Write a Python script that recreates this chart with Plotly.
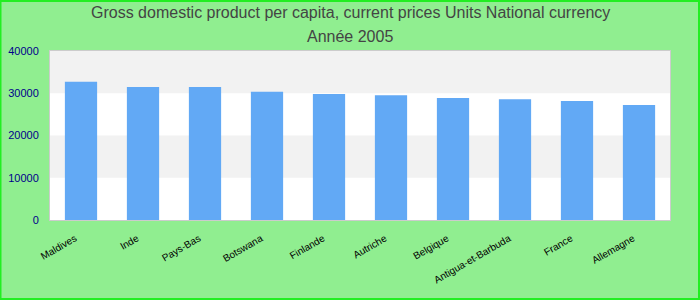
import plotly.graph_objects as go

categories = ["Maldives", "Inde", "Pays-Bas", "Botswana", "Finlande", "Autriche",
              "Belgique", "Antigua-et-Barbuda", "France", "Allemagne"]
values = [32700, 31450, 31450, 30350, 29800, 29550, 28850, 28600, 28150, 27200]
ytick_vals = [0, 10000, 20000, 30000, 40000]
title_lines = ["Gross domestic product per capita, current prices Units National currency",
               "Année 2005"]

W, H = 700, 300
ML, MR, MT, MB = 50, 30, 51, 80
pw = W - ML - MR
ph = H - MT - MB


def py(pix):
    """pixel row from top of figure -> paper y"""
    return 1 + (MT - pix) / ph


fig = go.Figure()
fig.add_trace(go.Bar(x=categories, y=values, marker=dict(color="#62a9f5", line=dict(width=0)),
                     hoverinfo="x+y"))

shapes = []
for i in range(len(ytick_vals) - 1):
    if i % 2 == 1:
        shapes.append(dict(type="rect", xref="paper", yref="y", x0=0, x1=1,
                           y0=ytick_vals[i], y1=ytick_vals[i + 1],
                           fillcolor="#f2f2f2", line=dict(width=0), layer="below"))
shapes.append(dict(type="rect", xref="paper", yref="paper",
                   x0=-ML / pw + 0.5 / pw, x1=1 + (MR - 1) / pw,
                   y0=-MB / ph + 1 / ph, y1=1 + (MT - 1) / ph,
                   line=dict(color="#22ee22", width=2), fillcolor="rgba(0,0,0,0)", layer="above"))

title_font = dict(family="Liberation Sans, Arial, sans-serif", size=16, color="#444444")
annotations = [
    dict(text=title_lines[0], xref="paper", yref="paper", x=(350 - ML) / pw, y=py(13),
         xanchor="center", yanchor="middle", showarrow=False, font=title_font),
    dict(text=title_lines[1], xref="paper", yref="paper", x=(350 - ML) / pw, y=py(36),
         xanchor="center", yanchor="middle", showarrow=False, font=title_font),
]

fig.update_layout(
    width=W, height=H,
    margin=dict(l=ML, r=MR, t=MT, b=MB, autoexpand=False),
    paper_bgcolor="#90ee90",
    plot_bgcolor="#ffffff",
    bargap=0.48,
    showlegend=False,
    shapes=shapes,
    annotations=annotations,
    font=dict(family="Liberation Sans, Arial, sans-serif"),
)
fig.update_xaxes(tickangle=-30, tickfont=dict(size=10, color="#000000"), automargin=False,
                 showline=True, linecolor="#cccccc", linewidth=1, mirror=True,
                 ticks="", showgrid=False, ticklabelstandoff=8, ticklabelshift=-6)
fig.update_yaxes(range=[0, 40000], tickvals=ytick_vals, tickformat="d", automargin=False,
                 showgrid=False, zeroline=False,
                 tickfont=dict(size=11, color="#00008b"), ticklabelstandoff=8,
                 showline=True, linecolor="#cccccc", linewidth=1, mirror=True, ticks="")

fig.write_html("out.html")
